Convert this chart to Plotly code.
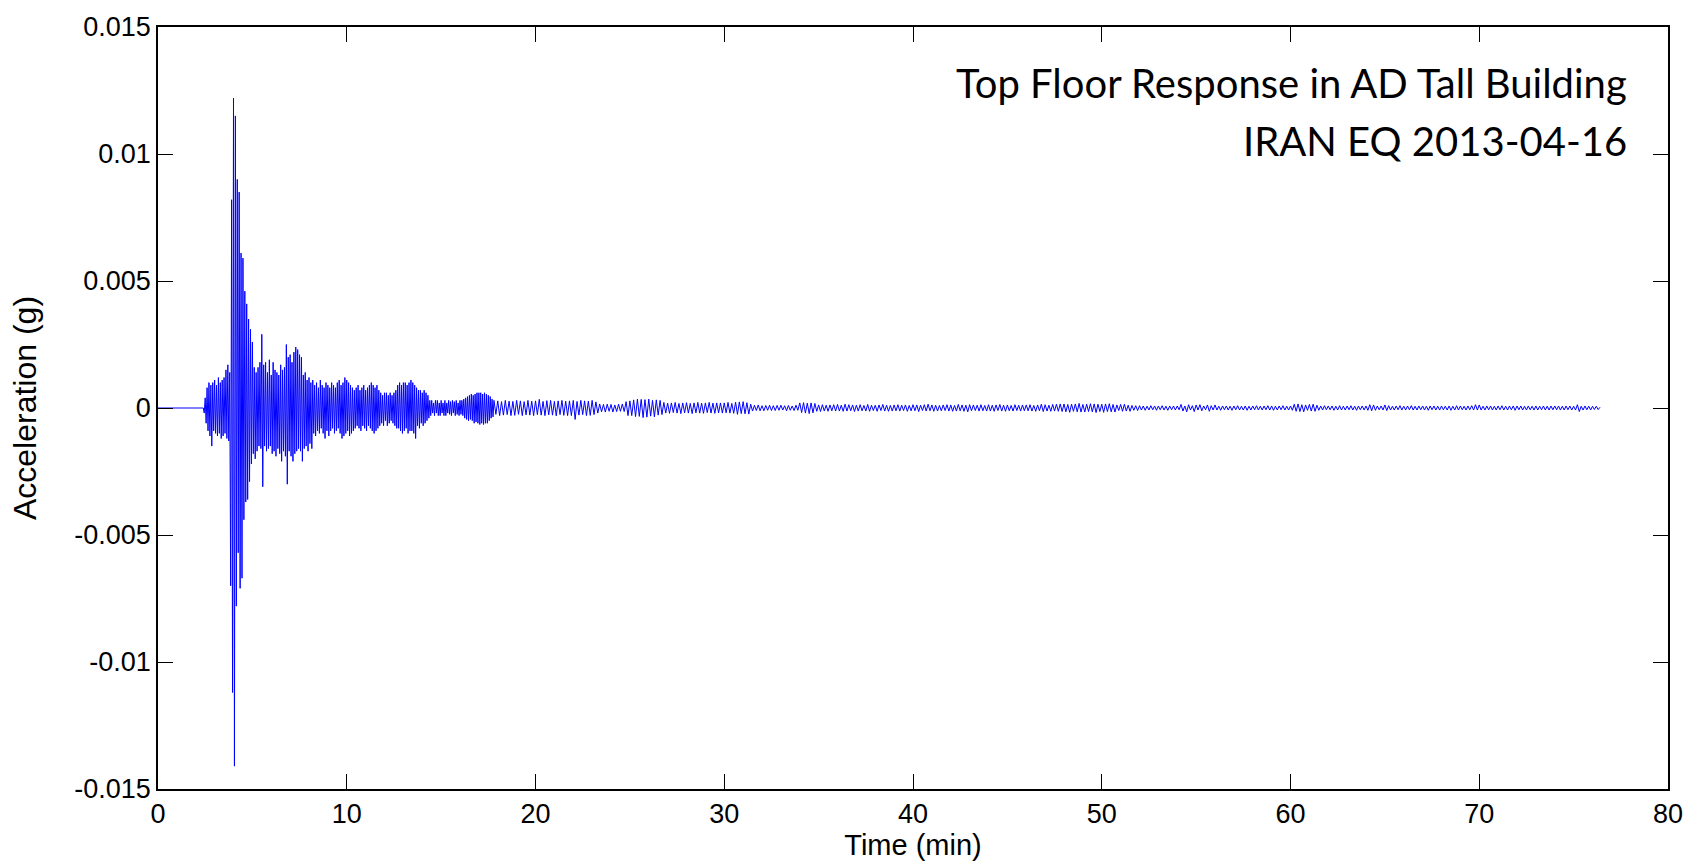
import plotly.graph_objects as go

# Top-floor acceleration record, peaks in units of 1e-4 g.
# Record is quiet (0 g) from 0 min until the first arrival at 2.4 min.
pre_event_time = [0.0]
pre_event_accel = [0.0]

# Strong-motion part: 2.40 .. 17.75 min, one extreme every 0.05 min
strong_start = 2.40
strong_step = 0.05
strong_peaks = [
    0, -2, 4, -6, 8, -9, 10, -11, 9, -15, 10, -9, 11, -10, 9, -11, 12, -10, 10, -12,
    11, -11, 12, -10, 15, -12, 17, -13, 14, -70, 82, -112, 122, -141, 115, -78, 90, -57, 85, -71,
    61, -67, 59, -44, 46, -37, 41, -36, 35, -29, 31, -22, 26, -18, 16, -20, 14, -17, 16, -15,
    18, -16, 29, -31, 17, -15, 18, -17, 14, -16, 19, -15, 13, -18, 18, -17, 15, -19, 14, -16,
    13, -18, 17, -21, 15, -17, 16, -19, 25, -30, 20, -17, 21, -19, 18, -21, 22, -18, 24, -17,
    23, -16, 21, -17, 20, -21, 13, -16, 14, -15, 11, -17, 12, -14, 10, -16, 11, -10, 9, -11,
    10, -9, 8, -10, 11, -8, 9, -10, 8, -12, 10, -9, 9, -11, 8, -9, 10, -8, 9, -10,
    8, -9, 10, -8, 11, -10, 9, -12, 10, -11, 12, -10, 11, -9, 10, -11, 9, -10, 8, -9,
    7, -8, 8, -7, 9, -8, 7, -9, 8, -7, 9, -8, 7, -9, 8, -7, 9, -8, 10, -9,
    9, -10, 8, -9, 9, -8, 7, -7, 6, -6, 5, -7, 6, -5, 6, -7, 5, -6, 6, -5,
    5, -6, 6, -7, 7, -8, 9, -8, 10, -9, 9, -10, 10, -9, 10, -8, 9, -10, 10, -9,
    11, -9, 10, -10, 9, -12, 8, -7, 7, -8, 7, -6, 6, -7, 7, -6, 6, -5, 5, -4,
    3, -3, 3, -2, 2, -3, 3, -2, 3, -3, 2, -3, 3, -2, 2, -3, 3, -3, 2, -2,
    3, -2.5, 2.5, -3, 3, -2, 2.5, -3, 3, -2.5, 2, -3, 3, -2.5, 3, -3, 3.5, -4, 4, -4.5,
    4.5, -5, 5, -4.5, 5.5, -5, 5, -6, 5.5, -5.5, 6, -6, 6, -6.5, 6, -6, 5.5, -6.5, 6, -6,
    5.5, -6, 5, -5, 4.5, -4, 3.5, -3.5,
]

# Decaying part: 17.8 .. 29.9 min, one extreme every 0.1 min
decay_start = 17.8
decay_step = 0.1
decay_peaks = [
    3, -2.5, 2.8, -3, 2.5, -2.8, 3, -2.6, 2.7, -3,
    2.6, -2.9, 3, -2.5, 2.8, -3, 2.5, -2.7, 3, -2.8,
    2.7, -3, 2.8, -2.6, 3.4, -2.8, 2.6, -3, 2.9, -2.7,
    3, -2.8, 2.6, -3.1, 2.8, -2.6, 3, -2.9, 2.7, -3,
    2.8, -3, 3, -4.5, 2.6, -2.8, 3, -2.6, 2.8, -3,
    2.7, -2.9, 3, -2.6, 2.4, -2, 1.6, -1.5, 1.4, -1.6,
    1.5, -1.3, 1.4, -1.6, 1.2, -1.4, 1.5, -1.3, 1.6, -1.4,
    2.5, -3, 2.8, -3, 3.2, -3.4, 3.5, -3.3, 3.4, -3.8,
    3.3, -3.6, 3.5, -3.2, 3, -3.5, 3.2, -2.8, 3, -2.6,
    2.2, -2, 1.9, -2.1, 2, -1.8, 2.2, -2, 1.8, -2.2,
    2, -1.9, 2.1, -2, 1.8, -2.2, 2, -1.9, 2.2, -2,
    1.9, -2.1, 2, -1.8, 2.2, -2, 1.9, -2.1, 2, -1.9,
    2, -2,
]

# Coda: 30.0 .. 76.4 min, one extreme every 0.1 min
coda_start = 30.0
coda_step = 0.1
coda_peaks = [
    2, -1.9, 2.2, -2, 1.8, -2.1, 2.3, -2.5, 2.4, -2.2, 2.5, -2.3, 2.1, -2.4, 1.5, -1.2, 1.1, -1.0, 1.2, -1.1,
    0.9, -1.1, 1, -0.9, 1.1, -1, 0.9, -1, 1, -0.9, 1.1, -0.8, 0.9, -1.1, 1, -0.9, 0.8, -1, 1.1, -0.9,
    2, -1.8, 2.1, -2, 1.9, -2.2, 2, -1.9, 1.8, -1.3, 1.2, -1.4, 1.3, -1.2, 1.1, -1.3, 1.2, -1.1, 1.3, -1.2,
    1.4, -1.2, 1.1, -1.3, 1.5, -1.2, 1.3, -1.1, 1.2, -1.4, 1.1, -1.2, 1.3, -1.1, 1, -1.2, 1.4, -1.3, 1.1, -1,
    1.1, -1.3, 1.2, -1, 1.4, -1.2, 1.1, -1.3, 1, -1.2, 1.2, -1.1, 1.3, -1.2, 1.1, -1, 1.2, -1.3, 1, -1.1,
    1.3, -1.1, 1.2, -1.4, 1.1, -1, 1.3, -1.2, 1.5, -1.1, 1.2, -1.3, 1.1, -1.2, 1, -1.1, 1.2, -1, 1.3, -1.2,
    1.2, -1.3, 1, -1.2, 1.4, -1.1, 1.2, -1.3, 1.1, -1.5, 1.3, -1.1, 1.2, -1, 1.1, -1.2, 1.3, -1.1, 1, -1.2,
    1.3, -1.2, 1.1, -1.3, 1.2, -1, 1.4, -1.2, 1.1, -1.3, 1.2, -1.1, 1, -1.2, 1.3, -1, 1.1, -1.2, 1.2, -1.1,
    1.2, -1.1, 1.3, -1.2, 1, -1.3, 1.2, -1.1, 1.5, -1.4, 1.3, -1.2, 1.1, -1.3, 1.4, -1.2, 1.5, -1.3, 1.6, -1.4,
    1.6, -1.5, 1.4, -1.7, 1.5, -1.3, 1.6, -1.5, 1.8, -1.6, 1.4, -1.6, 1.5, -1.4, 1.7, -1.5, 1.6, -1.8, 1.5, -1.4,
    1.5, -1.7, 1.6, -1.4, 1.7, -1.5, 1.4, -1.6, 1.2, -1, 1.4, -1.3, 1.5, -1.2, 1.1, -1.3, 1, -0.9, 0.9, -1,
    0.9, -0.8, 0.8, -0.9, 0.7, -0.8, 0.9, -0.7, 0.8, -0.9, 0.8, -0.7, 0.9, -0.8, 0.7, -0.9, 0.8, -0.7, 0.8, -0.8,
    0.8, -0.7, 1.4, -1.2, 0.8, -1.5, 1.3, -0.8, 0.9, -1.4, 1.2, -0.8, 1.3, -1.1, 0.8, -0.7, 1.2, -1.3, 0.9, -0.8,
    1.2, -0.8, 0.7, -0.9, 0.8, -0.7, 0.8, -0.8, 0.7, -0.9, 0.8, -0.7, 0.9, -0.8, 0.7, -0.8, 0.8, -0.9, 0.7, -0.8,
    0.8, -0.7, 0.9, -0.8, 0.7, -0.8, 0.8, -0.7, 0.9, -0.8, 0.8, -0.9, 0.7, -0.8, 0.8, -0.7, 0.9, -0.8, 0.7, -0.8,
    0.8, -0.9, 1.5, -1.3, 1.6, -1.4, 1.3, -1.5, 1.2, -0.9, 1.4, -1.2, 1.5, -1.3, 1.1, -0.9, 0.8, -0.8, 0.9, -0.7,
    0.8, -0.7, 0.8, -0.9, 0.7, -0.8, 0.9, -0.8, 0.7, -0.8, 0.8, -0.7, 0.9, -0.8, 0.7, -0.9, 0.8, -0.7, 0.8, -0.8,
    0.8, -0.9, 1.3, -1.1, 1.2, -0.9, 0.8, -0.7, 0.8, -0.8, 1.2, -1, 0.9, -0.8, 0.7, -0.8, 0.8, -0.7, 0.9, -0.8,
    0.7, -0.8, 0.8, -0.7, 0.9, -0.8, 0.7, -0.8, 0.8, -0.7, 0.8, -0.8, 0.7, -0.9, 0.8, -0.7, 0.8, -0.8, 0.7, -0.8,
    0.8, -0.7, 0.7, -0.8, 0.8, -0.9, 0.7, -0.8, 0.9, -0.8, 0.8, -0.7, 0.7, -0.8, 0.8, -0.7, 0.9, -0.8, 1.3, -0.8,
    1.2, -0.8, 0.7, -0.8, 0.8, -0.7, 0.8, -0.8, 0.7, -0.8, 0.8, -0.7, 0.9, -0.8, 0.7, -0.8, 0.8, -0.7, 0.8, -0.9,
    0.8, -0.7, 0.8, -0.8, 0.7, -0.8, 0.8, -0.7, 0.7, -0.8, 0.8, -0.8, 0.7, -0.7, 0.8, -0.8, 0.7, -0.8, 0.8, -0.7,
    0.8, -0.7, 0.8, -0.8, 0.7, -0.8, 0.8, -0.7, 0.8, -0.8, 0.7, -0.8, 1.3, -1.4, 0.7, -0.8, 0.8, -0.7, 0.7, -0.8,
    0.7, -0.6, 0.7, -0.6, 0.3,
]

UNIT = 1e-4  # peaks are stored in 1e-4 g

x_ticks = [0, 10, 20, 30, 40, 50, 60, 70, 80]
y_ticks = [-0.015, -0.01, -0.005, 0, 0.005, 0.01, 0.015]
y_tick_text = ["-0.015", "-0.01", "-0.005", "0", "0.005", "0.01", "0.015"]

title_lines = ["Top Floor Response in AD Tall Building", "IRAN EQ 2013-04-16"]


def sample_times(start, step, values):
    return [round(start + i * step, 4) for i in range(len(values))]


time_min = (
    pre_event_time
    + sample_times(strong_start, strong_step, strong_peaks)
    + sample_times(decay_start, decay_step, decay_peaks)
    + sample_times(coda_start, coda_step, coda_peaks)
)
accel_g = pre_event_accel + [v * UNIT for v in strong_peaks + decay_peaks + coda_peaks]

fig = go.Figure()
fig.add_trace(
    go.Scatter(
        x=time_min,
        y=accel_g,
        mode="lines",
        line=dict(color="#0000ff", width=1),
        hoverinfo="skip",
        showlegend=False,
    )
)

tick_font = dict(family="Liberation Sans, Arial, sans-serif", size=27, color="#000000")
label_font = dict(family="Liberation Sans, Arial, sans-serif", size=29, color="#000000")
title_font = dict(family="Lato, sans-serif", size=40, color="#000000")

fig.update_layout(
    width=1700,
    height=868,
    margin=dict(l=158, r=32, t=25, b=79),
    paper_bgcolor="#ffffff",
    plot_bgcolor="#ffffff",
    xaxis=dict(
        range=[0, 80],
        tickvals=x_ticks,
        ticks="inside",
        ticklen=15,
        tickcolor="#000000",
        showline=True,
        linecolor="#000000",
        linewidth=1.5,
        mirror="ticks",
        showgrid=False,
        zeroline=False,
        tickfont=tick_font,
        title=dict(text="Time (min)", font=label_font, standoff=6),
    ),
    yaxis=dict(
        range=[-0.015, 0.015],
        tickvals=y_ticks,
        ticktext=y_tick_text,
        ticks="inside",
        ticklen=15,
        tickcolor="#000000",
        showline=True,
        linecolor="#000000",
        linewidth=1.5,
        mirror="ticks",
        showgrid=False,
        zeroline=False,
        tickfont=tick_font,
        title=dict(text="Acceleration (g)", font=dict(label_font, size=32), standoff=28),
    ),
    annotations=[
        dict(
            text=title_lines[0],
            xref="paper",
            yref="paper",
            x=0.974,
            y=0.9267,
            xanchor="right",
            yanchor="middle",
            showarrow=False,
            font=title_font,
        ),
        dict(
            text=title_lines[1],
            xref="paper",
            yref="paper",
            x=0.974,
            y=0.8508,
            xanchor="right",
            yanchor="middle",
            showarrow=False,
            font=title_font,
        ),
    ],
)

fig.write_html("out.html")
